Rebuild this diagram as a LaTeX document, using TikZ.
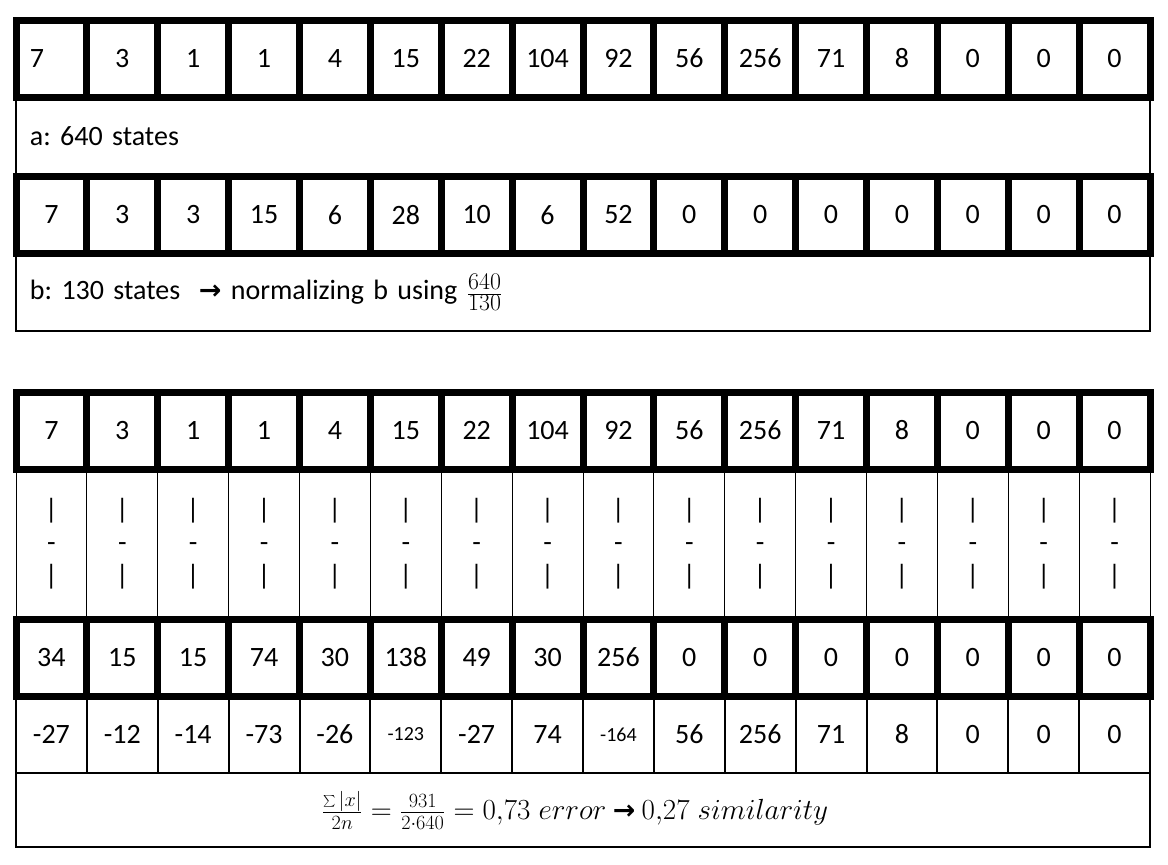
\documentclass[tikz,border=0pt]{standalone}
\usepackage{fontspec}
\setmainfont{Carlito}
\newfontfamily\arrowfont{DejaVu Sans}
\frenchspacing
\begin{document}
\begin{tikzpicture}[x=1pt,y=-1pt,font=\fontsize{28}{34}\selectfont]
\useasboundingbox (0,0) rectangle (1168,865);
\tikzset{
  cell/.style={draw, line width=7pt, minimum width=70.875pt, minimum height=77pt, inner sep=0pt, outer sep=0pt},
  barcell/.style={draw, line width=1pt, minimum width=70.875pt, minimum height=150pt, inner sep=0pt, outer sep=0pt, align=center, font=\fontsize{28}{33}\selectfont},
  diffcell/.style={draw, line width=2pt, minimum width=70.875pt, minimum height=77pt, inner sep=0pt, outer sep=0pt},
  textrow/.style={draw, line width=1.5pt, minimum width=1134pt, inner xsep=14pt, inner ysep=0pt, outer sep=0pt, text width=1106pt, align=left},
  smalltext/.style={font=\fontsize{20}{24}\selectfont}
}
% text rows (thin)
\node[textrow, minimum height=79pt] (ta) at (583,136.5) {a: 640 states};
\node[textrow, minimum height=77pt] (tb) at (583,292.5) {b: 130 states\ \ {\arrowfont\bfseries\fontsize{27}{30}\selectfont →} normalizing b using \raisebox{-1pt}{\scalebox{1.15}{$\frac{640}{130}$}}};
% row a
\node[cell, text width=42.875pt, inner xsep=14pt, align=left] (a1) at ({16+0.5*70.875},58.5) {7};
\foreach \v [count=\i from 2] in {3,1,1,4,15,22,104,92,56,256,71,8,0,0,0}
  \node[cell] (a\i) at ({16+(\i-0.5)*70.875},58.5) {\v};
% row b
\foreach \v [count=\i] in {7,3,3,15,6,28,10,6,52,0,0,0,0,0,0,0}
  \node[cell] (b\i) at ({16+(\i-0.5)*70.875},215) {\v};
% second table
\foreach \i in {1,...,16}
  \node[barcell] (m\i) at ({16+(\i-0.5)*70.875},544) {|\\-\\|};
\foreach \i in {1,...,16}
  \node[diffcell] (d\i) at ({16+(\i-0.5)*70.875},734.5) {};
\foreach \v/\i in {-27/1,-12/2,-14/3,-73/4,-26/5,-27/7,74/8,56/10,256/11,71/12,8/13,0/14,0/15,0/16}
  \node (d\i t) at (d\i.center) {\v};
\node[smalltext] (d6t) at (d6.center) {-123};
\node[smalltext] (d9t) at (d9.center) {-164};
\foreach \v [count=\i] in {7,3,1,1,4,15,22,104,92,56,256,71,8,0,0,0}
  \node[cell] (c\i) at ({16+(\i-0.5)*70.875},430.5) {\v};
\foreach \v [count=\i] in {34,15,15,74,30,138,49,30,256,0,0,0,0,0,0,0}
  \node[cell] (e\i) at ({16+(\i-0.5)*70.875},657.5) {\v};
% formula row
\node[draw, line width=1.5pt, minimum width=1134pt, minimum height=74pt, inner sep=0pt, outer sep=0pt] (f) at (583,810) {};
\node[font=\fontsize{24}{28}\selectfont] (ft) at (575,810)
  {\scalebox{1.17}{$\frac{\sum|x|}{2n}=\frac{931}{2\cdot640}=0{,}73\;error$ {\arrowfont\bfseries\fontsize{23}{26}\selectfont →} $0{,}27\;similarity$}};
\end{tikzpicture}
\end{document}
